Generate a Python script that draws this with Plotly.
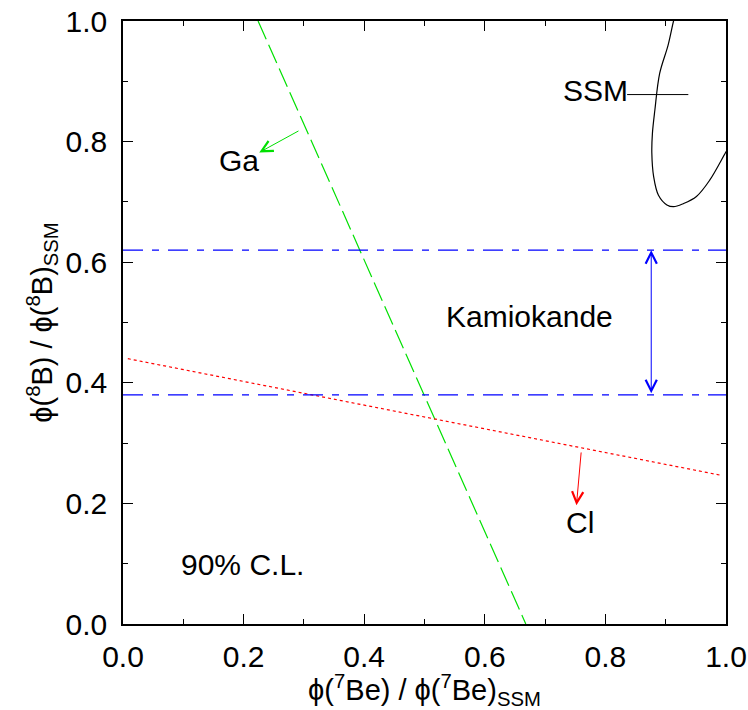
import plotly.graph_objects as go

# Data
ga_x = [0.224, 0.668]
ga_y = [1.0, 0.0]
cl_x = [0.008, 0.99]
cl_y = [0.44, 0.247]
kam_x = [0.0, 1.0]
kam_low = [0.38, 0.38]
kam_high = [0.62, 0.62]
ssm_x = [0.916, 0.913, 0.904, 0.890, 0.882, 0.878, 0.877, 0.880, 0.888, 0.902, 0.913, 0.929, 0.951, 0.973, 1.0, 1.01]
ssm_y = [1.01, 1.0, 0.96, 0.913, 0.852, 0.814, 0.781, 0.742, 0.711, 0.695, 0.692, 0.697, 0.709, 0.736, 0.783, 0.80]

FONT = "Liberation Sans, Arial, sans-serif"
fig = go.Figure()
fig.add_trace(go.Scatter(x=ga_x, y=ga_y, mode="lines",
                         line=dict(color="#00e000", width=1.2, dash="20px,6px")))
fig.add_trace(go.Scatter(x=cl_x, y=cl_y, mode="lines",
                         line=dict(color="red", width=1.2, dash="3px,3px")))
for yy in (kam_low, kam_high):
    fig.add_trace(go.Scatter(x=kam_x, y=yy, mode="lines",
                             line=dict(color="blue", width=1.2, dash="20px,9px,7px,9px")))
fig.add_trace(go.Scatter(x=ssm_x, y=ssm_y, mode="lines", line_shape="spline",
                         line=dict(color="black", width=1.2)))

ann = []
def arrow(x, y, ax, ay, color, side="end"):
    ann.append(dict(x=x, y=y, ax=ax, ay=ay, xref="x", yref="y", axref="x", ayref="y",
                    text="", showarrow=True, arrowhead=5, startarrowhead=5, arrowside=side,
                    arrowsize=2.2, arrowwidth=1, arrowcolor=color))
arrow(0.226, 0.782, 0.2935, 0.819, "#00e000")
arrow(0.752, 0.197, 0.760, 0.287, "red")
arrow(0.876, 0.62, 0.876, 0.38, "blue", side="end+start")
ann.append(dict(x=0.836, y=0.878, ax=0.940, ay=0.878, xref="x", yref="y", axref="x", ayref="y",
                text="", showarrow=True, arrowhead=0, arrowwidth=1, arrowcolor="black"))

def label(x, y, t):
    ann.append(dict(x=x, y=y, xref="x", yref="y", text=t, showarrow=False,
                    font=dict(family=FONT, size=30, color="black")))
label(0.192, 0.768, "Ga")
label(0.758, 0.169, "Cl")
label(0.674, 0.510, "Kamiokande")
label(0.784, 0.884, "SSM")
label(0.198, 0.098, "90% C.L.")

axis_common = dict(range=[0, 1], showgrid=False, zeroline=False, showline=True,
                   linecolor="black", linewidth=1.5, mirror="allticks", automargin=False,
                   ticks="inside", ticklen=10, tickwidth=1.2, tickcolor="black",
                   tick0=0, dtick=0.2, tickformat=".1f",
                   minor=dict(dtick=0.1, ticks="inside", ticklen=5, tickwidth=1.2, tickcolor="black"),
                   tickfont=dict(family=FONT, size=30, color="black"))

fig.update_layout(
    width=748, height=710, showlegend=False,
    paper_bgcolor="white", plot_bgcolor="white",
    margin=dict(l=123, r=22, t=21, b=86),
    annotations=ann,
    xaxis=dict(**axis_common, ticklabelstandoff=5,
               title=dict(text="ϕ(<sup>7</sup>Be) / ϕ(<sup>7</sup>Be)<sub>SSM</sub>",
                          font=dict(family=FONT, size=29, color="black"), standoff=2)),
    yaxis=dict(**axis_common, ticklabelstandoff=8,
               title=dict(text="ϕ(<sup>8</sup>B) / ϕ(<sup>8</sup>B)<sub>SSM</sub>",
                          font=dict(family=FONT, size=29, color="black"), standoff=4)),
)
fig.write_html("out.html")
